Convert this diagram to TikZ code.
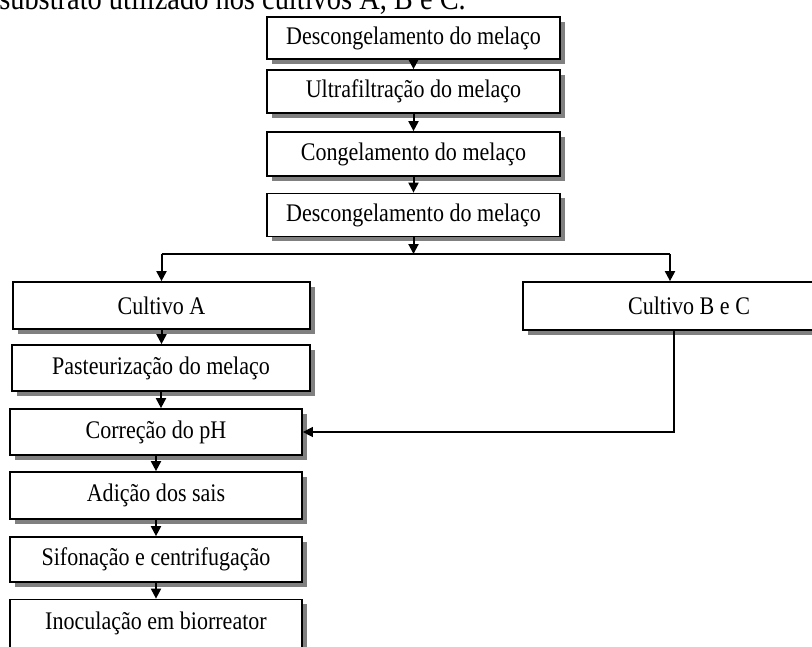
\documentclass[tikz,border=0pt]{standalone}
\usepackage{fontspec}
\setmainfont[FakeStretch=0.87]{Liberation Serif}
\usetikzlibrary{arrows.meta,shadows}
\begin{document}
\begin{tikzpicture}[x=0.75pt,y=-0.75pt,
  caixa/.style={draw,line width=1.3pt,fill=white,inner sep=0pt,
    font=\fontsize{19}{22}\selectfont,
    drop shadow={shadow xshift=3.4pt,shadow yshift=-3.4pt,fill=gray,opacity=1}},
  seta/.style={line width=1.5pt,-{Triangle[width=7.5pt,length=7.5pt]}}]
 \useasboundingbox (0,0) rectangle (812,646);
 \clip (0,0) rectangle (812,646);
 \node[anchor=base west,inner sep=0pt,font=\fontsize{24.5}{28}\selectfont] (titulo) at (-1,9) {substrato utilizado nos cultivos A, B e C.};
 \node[caixa,minimum width=219.75pt,minimum height=31.5pt] (desc1) at (413.5,38) {Descongelamento do melaço};
 \node[caixa,minimum width=219.75pt,minimum height=32.25pt] (ultra) at (413.5,91.5) {Ultrafiltração do melaço};
 \node[caixa,minimum width=219.75pt,minimum height=33pt] (cong) at (413.5,154) {Congelamento do melaço};
 \node[caixa,minimum width=219.75pt,minimum height=32.25pt] (desc2) at (413.5,215) {Descongelamento do melaço};
 \node[caixa,minimum width=222.75pt,minimum height=35.25pt] (cultA) at (161.5,305.5) {Cultivo A};
 \node[caixa,minimum width=249pt,minimum height=36pt] (cultBC) at (689,306) {Cultivo B e C};
 \node[caixa,minimum width=223.5pt,minimum height=34.5pt] (past) at (161,368) {Pasteurização do melaço};
 \node[caixa,minimum width=219pt,minimum height=34.5pt] (corr) at (156,432) {Correção do pH};
 \node[caixa,minimum width=219pt,minimum height=35.25pt] (adic) at (156,495.5) {Adição dos sais};
 \node[caixa,minimum width=219pt,minimum height=33.75pt] (sif) at (156,559.5) {Sifonação e centrifugação};
 \node[caixa,minimum width=219pt,minimum height=36pt] (inoc) at (156,623.5) {Inoculação em biorreator};
 \coordinate (ramo) at (413.5,254);
 \coordinate (ramoB) at (670,254);
 \coordinate (volta) at (674,0);
 \draw[seta] (desc1.south) -- (ultra.north);
 \draw[seta] (ultra.south) -- (cong.north);
 \draw[seta] (cong.south) -- (desc2.north);
 \draw[seta] (desc2.south) -- (ramo);
 \draw[line width=1.5pt] (ramo -| cultA.north) -- (ramoB);
 \draw[seta] (ramo -| cultA.north) -- (cultA.north);
 \draw[seta] (ramoB) -- (ramoB |- cultBC.north);
 \draw[seta] (cultA.south) -- (cultA.south |- past.north);
 \draw[seta] (past.south) -- (past.south |- corr.north);
 \draw[seta] (corr.south) -- (adic.north);
 \draw[seta] (adic.south) -- (sif.north);
 \draw[seta] (sif.south) -- (inoc.north);
 \draw[line width=1pt,-{Triangle[width=7.5pt,length=7.5pt]}] (volta |- cultBC.south) |- (corr.east);
\end{tikzpicture}
\end{document}
